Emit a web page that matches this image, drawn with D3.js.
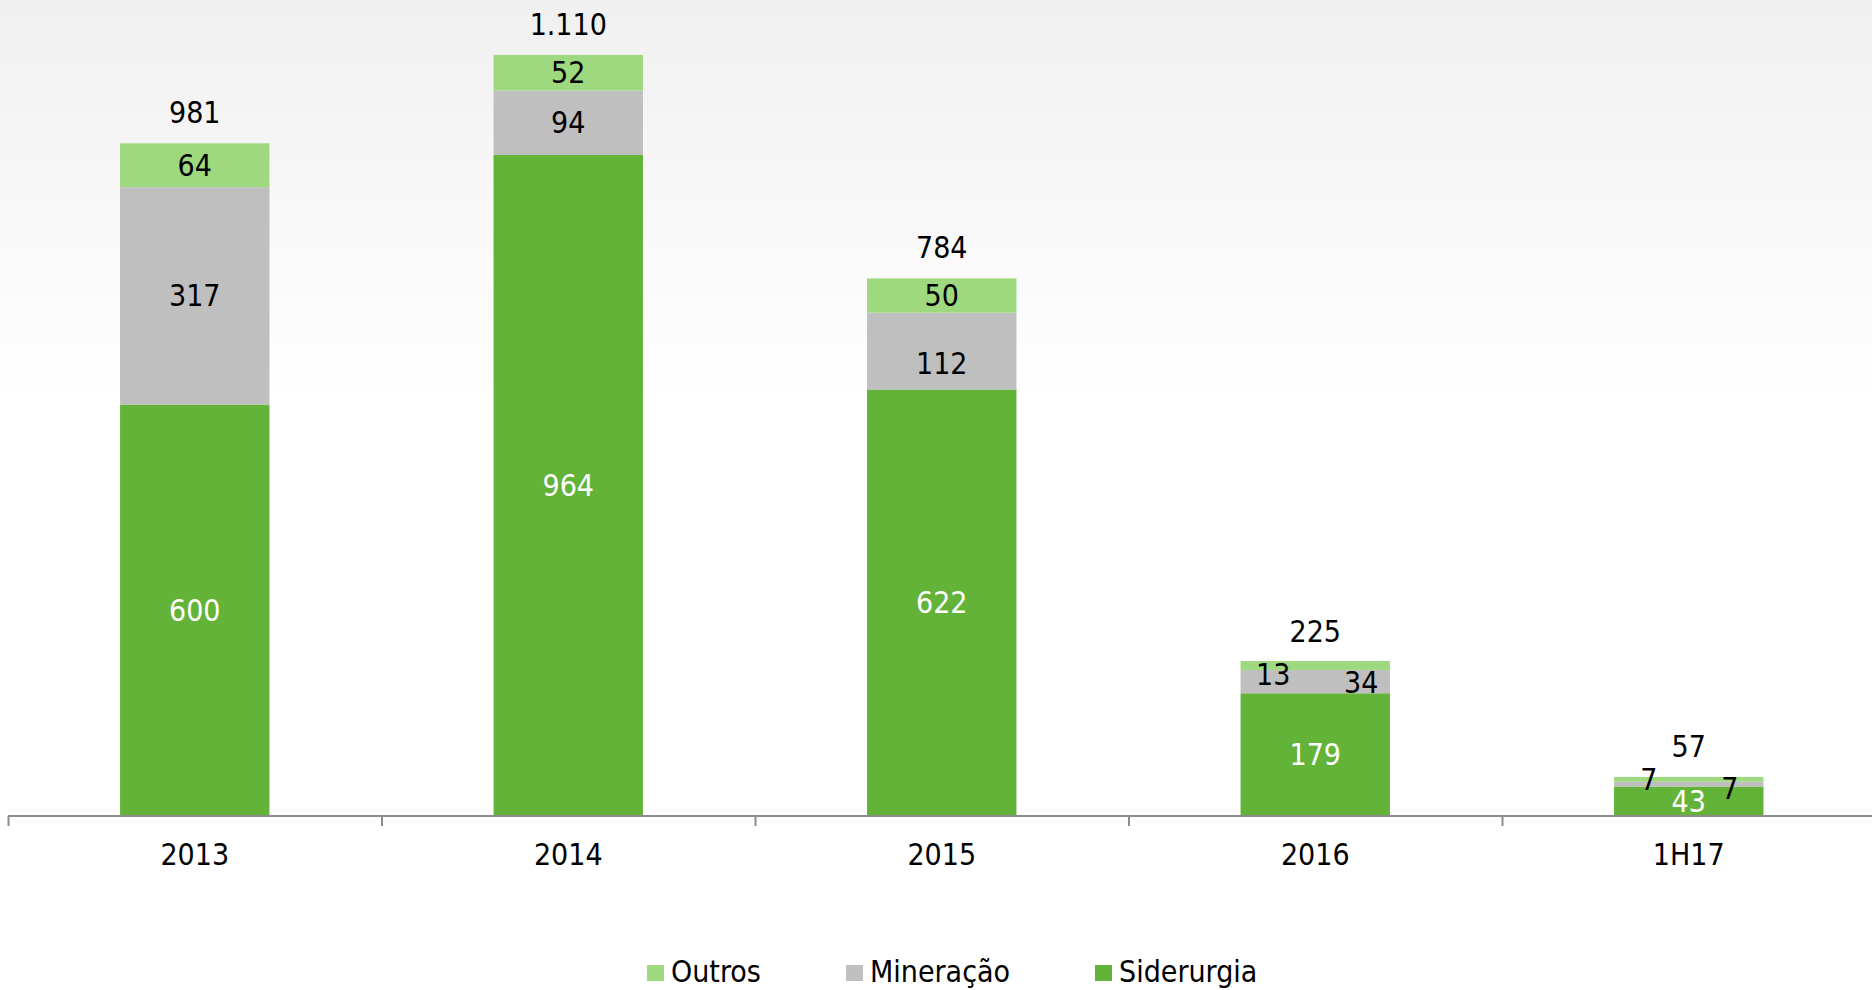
<!DOCTYPE html>
<html>
<head>
<meta charset="utf-8">
<script src="https://cdn.jsdelivr.net/npm/d3@7"></script>
<style>
  html, body { margin: 0; padding: 0; background: #fff; }
  svg { display: block; font-family: "DejaVu Sans Condensed", "DejaVu Sans", sans-serif; }
</style>
</head>
<body>
<svg id="chart" width="1872" height="990"></svg>
<script>
// Data
const categories = ['2013', '2014', '2015', '2016', '1H17'];
const siderurgia = [600, 964, 622, 179, 43];
const mineracao = [317, 94, 112, 34, 7];
const outros = [64, 52, 50, 13, 7];
const totals = [981, 1110, 784, 225, 57];
const seriesNames = ['Siderurgia', 'Mineração', 'Outros'];
const legendOrder = ['Outros', 'Mineração', 'Siderurgia'];

const colors = { 'Siderurgia': '#62b337', 'Mineração': '#bfbfbf', 'Outros': '#9fd97f' };

// manual label nudges (dx, dy) as in the original slide
const nudges = {
  '2015|Mineração': [0, 12],
  '2016|Outros': [-42, 9],
  '2016|Mineração': [46, 1],
  '1H17|Outros': [-40, 0],
  '1H17|Mineração': [41, 4]
};

const width = 1872, height = 990;
const fontSize = 30;
const svg = d3.select('#chart');

// background gradient (light grey at top fading to white)
const defs = svg.append('defs');
const grad = defs.append('linearGradient')
  .attr('id', 'bg').attr('x1', 0).attr('y1', 0).attr('x2', 0).attr('y2', 1);
grad.append('stop').attr('offset', '0%').attr('stop-color', '#f0f0f0');
grad.append('stop').attr('offset', '40%').attr('stop-color', '#ffffff');
grad.append('stop').attr('offset', '100%').attr('stop-color', '#ffffff');
svg.append('rect').attr('width', width).attr('height', height).attr('fill', 'url(#bg)');

const baseY = 816;
const step = 373.5;
const xScale = d3.scaleBand()
  .domain(categories)
  .range([8, 8 + step * categories.length])
  .paddingInner(0).paddingOuter(0);
const barW = xScale.bandwidth() * 0.4;

const yScale = d3.scaleLinear().domain([0, 1190]).range([baseY, 0]);

const locale = d3.formatLocale({ decimal: ',', thousands: '.', grouping: [3], currency: ['R$', ''] });
const fmt = locale.format(',d');

// build stacked table
const table = categories.map((c, i) => ({
  cat: c, 'Siderurgia': siderurgia[i], 'Mineração': mineracao[i], 'Outros': outros[i], total: totals[i]
}));
const stack = d3.stack().keys(seriesNames)(table);

const chart = svg.append('g');

stack.forEach(layer => {
  const key = layer.key;
  chart.selectAll(null)
    .data(layer)
    .join('rect')
    .attr('x', d => xScale(d.data.cat) + (xScale.bandwidth() - barW) / 2)
    .attr('width', barW)
    .attr('y', d => yScale(d[1]))
    .attr('height', d => yScale(d[0]) - yScale(d[1]))
    .attr('fill', colors[key]);
});

// segment labels
stack.forEach(layer => {
  const key = layer.key;
  const nudge = d => nudges[d.data.cat + '|' + key] || [0, 0];
  chart.selectAll(null)
    .data(layer)
    .join('text')
    .attr('x', d => xScale(d.data.cat) + xScale.bandwidth() / 2 + nudge(d)[0])
    .attr('y', d => (yScale(d[0]) + yScale(d[1])) / 2 + nudge(d)[1] + 10.5)
    .attr('text-anchor', 'middle')
    .attr('font-size', fontSize)
    .attr('fill', key === 'Siderurgia' ? '#ffffff' : '#000000')
    .text(d => fmt(d.data[key]));
});

// totals above bars
chart.selectAll('.total')
  .data(table)
  .join('text')
  .attr('class', 'total')
  .attr('x', d => xScale(d.cat) + xScale.bandwidth() / 2)
  .attr('y', d => yScale(d.total) - 20)
  .attr('text-anchor', 'middle')
  .attr('font-size', fontSize)
  .attr('fill', '#000')
  .text(d => fmt(d.total));

// x axis
const axisG = svg.append('g').attr('transform', `translate(0,${baseY})`);
axisG.append('line')
  .attr('x1', 8).attr('x2', width)
  .attr('y1', 0).attr('y2', 0)
  .attr('stroke', '#8c8c8c').attr('stroke-width', 2);
axisG.selectAll('.tick')
  .data(categories)
  .join('line')
  .attr('class', 'tick')
  .attr('x1', d => xScale(d) + 0.5).attr('x2', d => xScale(d) + 0.5)
  .attr('y1', 0).attr('y2', 10)
  .attr('stroke', '#8c8c8c').attr('stroke-width', 2);
axisG.selectAll('.lbl')
  .data(categories)
  .join('text')
  .attr('class', 'lbl')
  .attr('x', d => xScale(d) + xScale.bandwidth() / 2)
  .attr('y', 49)
  .attr('text-anchor', 'middle')
  .attr('font-size', fontSize)
  .attr('fill', '#000')
  .text(d => d);

// legend
const legendX = [647, 846, 1095];
const legend = svg.append('g');
legendOrder.forEach((name, i) => {
  legend.append('rect')
    .attr('x', legendX[i]).attr('y', 965)
    .attr('width', 17).attr('height', 16)
    .attr('fill', colors[name]);
  legend.append('text')
    .attr('x', legendX[i] + 24).attr('y', 982)
    .attr('font-size', fontSize)
    .attr('fill', '#000')
    .text(name);
});
</script>
</body>
</html>
